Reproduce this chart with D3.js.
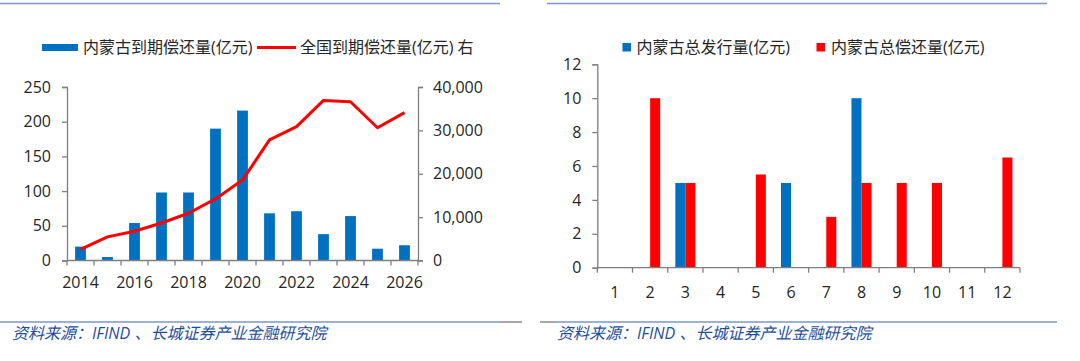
<!DOCTYPE html>
<html>
<head>
<meta charset="utf-8">
<script src="https://cdn.jsdelivr.net/npm/d3@7"></script>
<style>
  body { margin: 0; background: #fff; }
  svg { display: block; }
  svg text { font-family: "Open Sans", "Noto Sans CJK SC", sans-serif; }
</style>
</head>
<body>
<script>
// left chart: maturity repayments
const years = ['2014','2015','2016','2017','2018','2019','2020','2021','2022','2023','2024','2025','2026']
const nmgMaturity = [20, 5, 54, 98, 98, 190, 216, 68, 71, 38, 64, 17, 22]
const nationalMaturity = [2550, 5450, 6750, 8650, 10900, 14200, 18550, 27800, 30850, 36900, 36600, 30600, 34100]
const leftTicks = [0, 50, 100, 150, 200, 250]
const rightTicks = [0, 10000, 20000, 30000, 40000]

// right chart: monthly issuance / repayment
const months = ['1','2','3','4','5','6','7','8','9','10','11','12']
const nmgIssue = [0, 0, 5, 0, 0, 5, 0, 10, 0, 0, 0, 0]
const nmgRepay = [0, 10, 5, 0, 5.5, 0, 3, 5, 5, 5, 0, 6.5]
const monthTicks = [0, 2, 4, 6, 8, 10, 12]

const BLUE = '#0070C0'
const RED = '#FF0000'
const AXIS = '#7F7F7F'
const TXT = '#262626'
const SRC = '#1F4E9A'

const svg = d3.select('body').append('svg')
  .attr('width', 1080)
  .attr('height', 361)

// frame lines
svg.append('line').attr('x1', 0).attr('x2', 500).attr('y1', 3.5).attr('y2', 3.5)
  .attr('stroke', '#7A97CC').attr('stroke-width', 1.5)
svg.append('line').attr('x1', 547).attr('x2', 1047).attr('y1', 3.5).attr('y2', 3.5)
  .attr('stroke', '#7A97CC').attr('stroke-width', 1.5)
svg.append('line').attr('x1', 0).attr('x2', 500).attr('y1', 322).attr('y2', 322)
  .attr('stroke', '#7A97CC').attr('stroke-width', 1.5)
svg.append('line').attr('x1', 500).attr('x2', 522).attr('y1', 322).attr('y2', 322)
  .attr('stroke', '#8a8a8a').attr('stroke-width', 1.5)
svg.append('line').attr('x1', 540).attr('x2', 556).attr('y1', 322).attr('y2', 322)
  .attr('stroke', '#8a8a8a').attr('stroke-width', 1.5)
svg.append('line').attr('x1', 556).attr('x2', 1057).attr('y1', 322).attr('y2', 322)
  .attr('stroke', '#7A97CC').attr('stroke-width', 1.5)

// source notes
;[12, 557].forEach(x => {
  svg.append('text')
    .attr('x', x).attr('y', 339)
    .attr('font-size', 16)
    .attr('font-style', 'italic')
    .attr('fill', SRC)
    .text('资料来源：IFIND 、长城证券产业金融研究院')
})

function styleAxis(g) {
  g.attr('font-family', null).attr('font-size', null)
  g.selectAll('path').attr('stroke', AXIS).attr('stroke-width', 1.3)
  g.selectAll('line').attr('stroke', AXIS).attr('stroke-width', 1.3)
  g.selectAll('text').attr('fill', TXT).attr('font-size', 16)
}

// ---------- left chart ----------
const L = { left: 67, right: 418, top: 87, bottom: 260.5 }

const xL = d3.scaleBand().domain(years).range([L.left, L.right])
const yL = d3.scaleLinear().domain([0, 250]).range([L.bottom, L.top])
const yR = d3.scaleLinear().domain([0, 40000]).range([L.bottom, L.top])

const leftG = svg.append('g')

leftG.selectAll('rect.nmg')
  .data(nmgMaturity)
  .enter()
  .append('rect')
  .attr('class', 'nmg')
  .attr('x', (d, i) => xL(years[i]) + xL.bandwidth() * 0.3)
  .attr('width', xL.bandwidth() * 0.4)
  .attr('y', d => yL(d))
  .attr('height', d => yL(0) - yL(d))
  .attr('fill', BLUE)

const line = d3.line()
  .x((d, i) => xL(years[i]) + xL.bandwidth() / 2)
  .y(d => yR(d))

leftG.append('path')
  .datum(nationalMaturity)
  .attr('d', line)
  .attr('fill', 'none')
  .attr('stroke', RED)
  .attr('stroke-width', 3)
  .attr('stroke-linejoin', 'round')

const axL = leftG.append('g')
  .attr('transform', `translate(${L.left},0)`)
  .call(d3.axisLeft(yL).tickValues(leftTicks).tickSize(5).tickPadding(11))
styleAxis(axL)

const axR = leftG.append('g')
  .attr('transform', `translate(${L.right},0)`)
  .call(d3.axisRight(yR).tickValues(rightTicks).tickSize(5).tickPadding(10).tickFormat(d3.format(',')))
styleAxis(axR)

const axB = leftG.append('g')
  .attr('transform', `translate(0,${L.bottom})`)
  .call(d3.axisBottom(xL).tickSize(0).tickPadding(16).tickFormat((d, i) => i % 2 === 0 ? d : ''))
styleAxis(axB)
axB.select('.domain').attr('d', `M${L.left},0H${L.right}`)
// ticks between bands
axB.selectAll('line.sep')
  .data(d3.range(years.length + 1))
  .enter()
  .append('line')
  .attr('class', 'sep')
  .attr('x1', i => L.left + i * xL.step())
  .attr('x2', i => L.left + i * xL.step())
  .attr('y1', 0).attr('y2', 5)
  .attr('stroke', AXIS).attr('stroke-width', 1.3)

// left legend
leftG.append('rect').attr('x', 42).attr('y', 44).attr('width', 36).attr('height', 7).attr('fill', BLUE)
leftG.append('text').attr('x', 83).attr('y', 53).attr('font-size', 16).attr('fill', TXT)
  .text('内蒙古到期偿还量(亿元)')
leftG.append('line').attr('x1', 257).attr('x2', 296).attr('y1', 47.5).attr('y2', 47.5)
  .attr('stroke', RED).attr('stroke-width', 3)
leftG.append('text').attr('x', 300).attr('y', 53).attr('font-size', 16).attr('fill', TXT)
  .text('全国到期偿还量(亿元) 右')

// ---------- right chart ----------
const R = { left: 597.3, right: 1020, top: 64.3, bottom: 267.7 }

const x0 = d3.scaleBand().domain(months).range([R.left, R.right]).paddingInner(0.43).paddingOuter(0.215)
const x1 = d3.scaleBand().domain(['issue', 'repay']).range([0, x0.bandwidth()])
const yM = d3.scaleLinear().domain([0, 12]).range([R.bottom, R.top])

const rightG = svg.append('g')

const groups = rightG.selectAll('g.month')
  .data(months)
  .enter()
  .append('g')
  .attr('class', 'month')
  .attr('transform', d => `translate(${x0(d)},0)`)

groups.append('rect')
  .attr('x', x1('issue'))
  .attr('width', x1.bandwidth())
  .attr('y', (d, i) => yM(nmgIssue[i]))
  .attr('height', (d, i) => yM(0) - yM(nmgIssue[i]))
  .attr('fill', BLUE)

groups.append('rect')
  .attr('x', x1('repay'))
  .attr('width', x1.bandwidth())
  .attr('y', (d, i) => yM(nmgRepay[i]))
  .attr('height', (d, i) => yM(0) - yM(nmgRepay[i]))
  .attr('fill', RED)

const axM = rightG.append('g')
  .attr('transform', `translate(${R.left},0)`)
  .call(d3.axisLeft(yM).tickValues(monthTicks).tickSize(5).tickPadding(11))
styleAxis(axM)

const axMB = rightG.append('g')
  .attr('transform', `translate(0,${R.bottom})`)
  .call(d3.axisBottom(x0).tickSize(0).tickPadding(19))
styleAxis(axMB)
axMB.select('.domain').attr('d', `M${R.left},0H${R.right}`)
axMB.selectAll('line.sep')
  .data(d3.range(months.length + 1))
  .enter()
  .append('line')
  .attr('class', 'sep')
  .attr('x1', i => R.left + i * x0.step())
  .attr('x2', i => R.left + i * x0.step())
  .attr('y1', 0).attr('y2', 5)
  .attr('stroke', AXIS).attr('stroke-width', 1.3)

// right legend
rightG.append('rect').attr('x', 622.5).attr('y', 43).attr('width', 8.5).attr('height', 8.5).attr('fill', BLUE)
rightG.append('text').attr('x', 636.5).attr('y', 53).attr('font-size', 16).attr('fill', TXT)
  .text('内蒙古总发行量(亿元)')
rightG.append('rect').attr('x', 816.5).attr('y', 43).attr('width', 8.5).attr('height', 8.5).attr('fill', RED)
rightG.append('text').attr('x', 831).attr('y', 53).attr('font-size', 16).attr('fill', TXT)
  .text('内蒙古总偿还量(亿元)')
</script>
</body>
</html>
